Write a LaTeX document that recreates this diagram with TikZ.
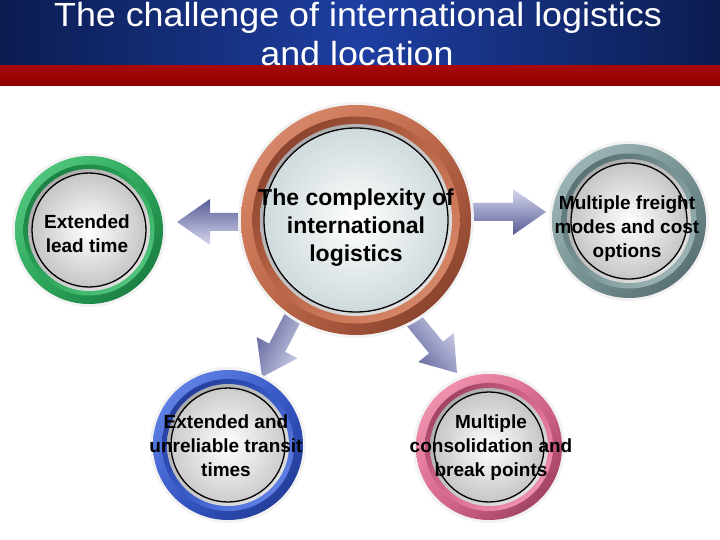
\documentclass[tikz,border=0pt]{standalone}
\usepackage{fontspec}
\setmainfont{Liberation Sans}
\newfontfamily\titlefont[FakeStretch=1.07]{Liberation Sans}
\usetikzlibrary{shadings}
\definecolor{navyD}{HTML}{0B1C50}
\definecolor{navyL}{HTML}{1E3FA2}
\definecolor{redL}{HTML}{A80808}
\definecolor{redD}{HTML}{8E0000}
\definecolor{arrL}{HTML}{D6D8EE}
\definecolor{arrD}{HTML}{585C96}
\definecolor{gL}{HTML}{5FD08A}\definecolor{gM}{HTML}{2AA85A}\definecolor{gD}{HTML}{15703A}
\definecolor{bL}{HTML}{E09375}\definecolor{bM}{HTML}{C06848}\definecolor{bD}{HTML}{783624}
\definecolor{tL}{HTML}{AAC0C2}\definecolor{tM}{HTML}{7A9597}\definecolor{tD}{HTML}{4B6466}
\definecolor{uL}{HTML}{7090F0}\definecolor{uM}{HTML}{3558C8}\definecolor{uD}{HTML}{1C3388}
\definecolor{pL}{HTML}{F7A0BA}\definecolor{pM}{HTML}{DC6A8E}\definecolor{pD}{HTML}{8C3454}
\definecolor{discC}{HTML}{CFDADC}
\tikzset{
  titletext/.style={text=white,font=\titlefont\fontsize{33.5}{38}\selectfont,inner sep=0pt,anchor=base},
  bigtext/.style={font=\bfseries\fontsize{23}{28}\selectfont,align=center,inner sep=0pt},
  smalltext/.style={font=\bfseries\fontsize{19}{24}\selectfont,align=center,inner sep=0pt},
  arrowshape/.style={left color=arrL,right color=arrD}
}
% #1 name, #2 centre, #3 outer radius, #4 disc radius, #5 light, #6 mid, #7 dark, #8 disc outer colour
\newcommand\ringdisc[8]{%
  \pgfmathsetmacro\rhalo{#3+3}%
  \pgfmathsetmacro\rbev{#4+0.5*(#3-#4)}%
  \pgfmathsetmacro\rbez{#4+4}%
  \node[circle,minimum size=2*#3 pt,inner sep=0pt] (#1) at (#2) {};
  \fill[gray!10] (#1.center) circle[radius=\rhalo pt];
  \shade[upper left=#5,upper right=#6,lower left=#6,lower right=#7] (#1.center) circle[radius=#3pt];
  \shade[upper left=#7,upper right=#6,lower left=#6,lower right=#5] (#1.center) circle[radius=\rbev pt];
  \shade[upper left=gray!75,upper right=gray!45,lower left=gray!45,lower right=gray!15] (#1.center) circle[radius=\rbez pt];
  \shade[inner color=white,outer color=#8,draw=black,line width=1.3pt] (#1.center) circle[radius=#4pt];
}
% #1 tip, #2 angle  (points transformed one by one; shading angle set explicitly)
\newcommand\fatarrow[2]{%
  \tikzset{arrT/.style={shift={(#1)},rotate=#2}}%
  \shade[arrowshape,shading angle=#2]
    ([arrT]0,0) -- ([arrT]-33,23) -- ([arrT]-33,9) -- ([arrT]-85,9) -- ([arrT]-85,-9)
    -- ([arrT]-33,-9) -- ([arrT]-33,-23) -- cycle;}
\begin{document}
\begin{tikzpicture}[x=1pt,y=-1pt]
\useasboundingbox (0,0) rectangle (720,540);
\fill[white] (0,0) rectangle (720,540);
% title bar
\shade[left color=navyD,right color=navyD,middle color=navyL] (0,0) rectangle (720,67);
\shade[top color=redL,bottom color=redD] (0,66) rectangle (720,86);
\node[titletext] (title1) at (358,27) {The challenge of international logistics};
\node[titletext] (title2) at (357,66) {and location};
% arrows (behind circles)
\coordinate (tipL) at (177,222);
\coordinate (tipR) at (546,212);
\coordinate (tipBL) at (262,377);
\coordinate (tipBR) at (457,373);
\fatarrow{tipL}{180}
\fatarrow{tipR}{0}
\fatarrow{tipBL}{-117.4}
\fatarrow{tipBR}{-50.6}
% circles
\ringdisc{centre}{356,220}{115}{92}{bL}{bM}{bD}{discC}
\ringdisc{lead}{89,230}{74}{57}{gL}{gM}{gD}{gray!45}
\ringdisc{freight}{629,221}{77}{58}{tL}{tM}{tD}{gray!45}
\ringdisc{transit}{228,445}{75}{57}{uL}{uM}{uD}{gray!40}
\ringdisc{consol}{489,447}{73}{55}{pL}{pM}{pD}{gray!45}
% texts
\node[bigtext] (centretext) at (356,228) {The complexity of\\international\\logistics};
\node[smalltext] (leadtext) at (87,234) {Extended\\lead time};
\node[smalltext] (freighttext) at (627,229) {Multiple freight\\modes and cost\\options};
\node[smalltext] (transittext) at (226,446) {Extended and\\unreliable transit\\times};
\node[smalltext] (consoltext) at (491,448) {Multiple\\consolidation and\\break points};
\end{tikzpicture}
\end{document}
